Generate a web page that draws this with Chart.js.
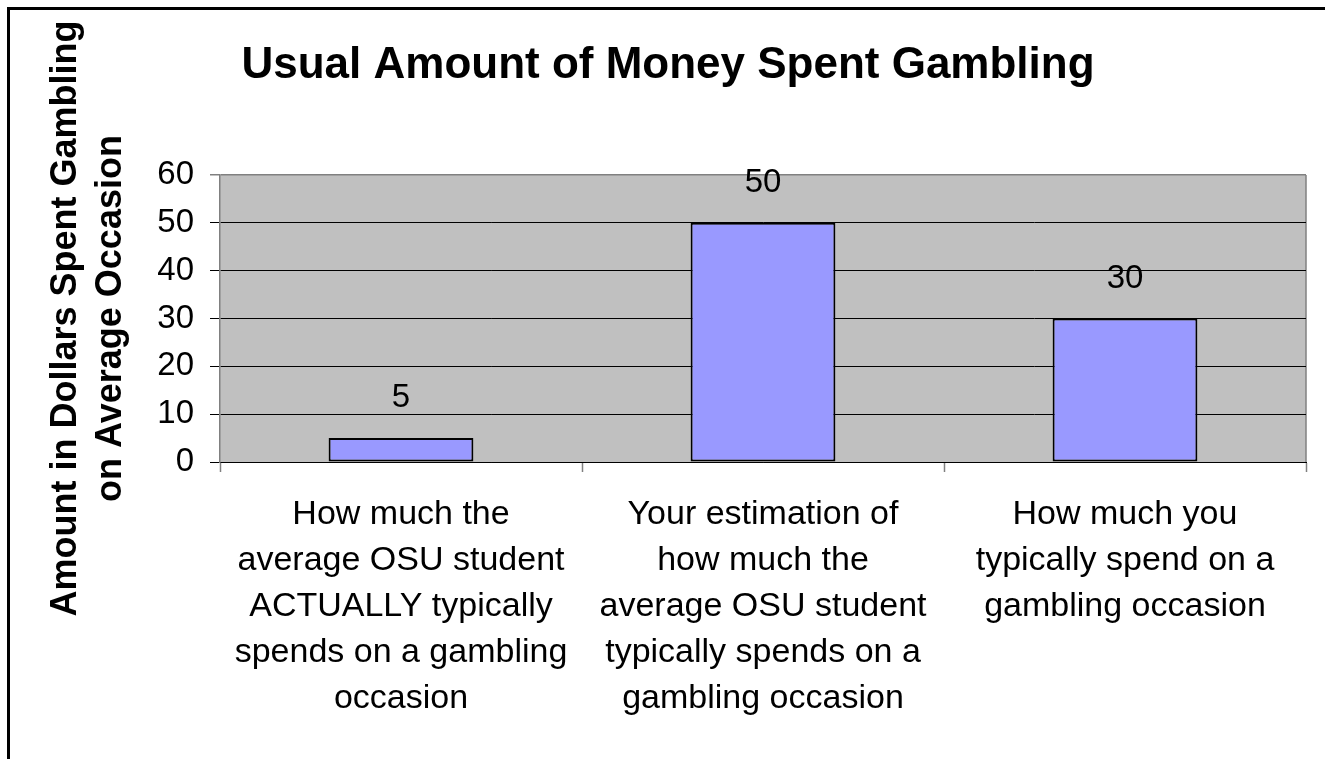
<!DOCTYPE html>
<html>
<head>
<meta charset="utf-8">
<script src="https://cdn.jsdelivr.net/npm/chart.js@4/dist/chart.umd.min.js"></script>
<style>
  html, body { margin: 0; padding: 0; background: #fff; overflow: hidden; }
  #wrap { position: relative; width: 1325px; height: 759px; }
  #frame { position: absolute; left: 7px; top: 7px; right: -10px; bottom: -10px;
           border: 3px solid #000; pointer-events: none; }
</style>
</head>
<body>
<div id="wrap">
  <canvas id="chart" width="1325" height="759"></canvas>
  <div id="frame"></div>
</div>
<script>
// chart data
const categories = [
  ["How much the", "average OSU student", "ACTUALLY typically", "spends on a gambling", "occasion"],
  ["Your estimation of", "how much the", "average OSU student", "typically spends on a", "gambling occasion"],
  ["How much you", "typically spend on a", "gambling occasion"]
]
const dollars = [5, 50, 30]
const yTicks = [0, 10, 20, 30, 40, 50, 60]

const chartTitle = "Usual Amount of Money Spent Gambling"
const yTitle = ["Amount in Dollars Spent Gambling", "on Average Occasion"]

const FONT = "'Liberation Sans', Arial, Helvetica, sans-serif"

// gray plot area + right edge
const plotBackground = {
  id: "plotBackground",
  beforeDraw(chart) {
    const {ctx, chartArea: a} = chart
    ctx.save()
    ctx.fillStyle = "#C0C0C0"
    ctx.fillRect(a.left, a.top, a.right - a.left, a.bottom - a.top)
    ctx.strokeStyle = "#808080"
    ctx.lineWidth = 1.5
    ctx.beginPath()
    ctx.moveTo(a.right, a.top)
    ctx.lineTo(a.right, a.bottom)
    ctx.stroke()
    ctx.restore()
  }
}

// value labels over the bars
const valueLabels = {
  id: "valueLabels",
  afterDatasetsDraw(chart) {
    const {ctx} = chart
    ctx.save()
    ctx.font = "33px " + FONT
    ctx.fillStyle = "#000"
    ctx.textAlign = "center"
    ctx.textBaseline = "middle"
    chart.getDatasetMeta(0).data.forEach((bar, i) => {
      ctx.fillText(String(dollars[i]), bar.x, bar.y - 40)
    })
    ctx.restore()
  }
}

new Chart(document.getElementById("chart"), {
  type: "bar",
  data: {
    labels: categories,
    datasets: [{
      data: dollars,
      backgroundColor: "#9999FF",
      borderColor: "#000",
      borderWidth: 2,
      borderSkipped: false,
      barPercentage: 0.4,
      categoryPercentage: 1
    }]
  },
  options: {
    responsive: false,
    animation: false,
    layout: { padding: { left: 30, right: 19, top: 0, bottom: 0 } },
    plugins: {
      legend: { display: false },
      tooltip: { enabled: false },
      title: {
        display: true,
        text: chartTitle,
        color: "#000",
        font: { family: FONT, size: 44, weight: "bold", lineHeight: 1.2 },
        padding: { top: 39, bottom: 83.2 }
      }
    },
    scales: {
      x: {
        grid: {
          display: true,
          offset: true,
          drawOnChartArea: false,
          tickLength: 10,
          tickColor: "#808080",
          tickWidth: 1.5
        },
        border: { display: true, color: "#000", width: 1 },
        ticks: {
          color: "#000",
          padding: 20,
          maxRotation: 0,
          autoSkip: false,
          font: { family: FONT, size: 34, lineHeight: 46 / 34 }
        },
        afterFit(scale) { scale.height = 297 }
      },
      y: {
        min: 0,
        max: 60,
        afterBuildTicks(scale) { scale.ticks = yTicks.map(v => ({value: v})) },
        grid: {
          color: c => c.tick && c.tick.value === 60 ? "#808080" : "#000",
          lineWidth: c => c.tick && c.tick.value === 60 ? 1.5 : 1,
          tickLength: 10
        },
        border: { display: true, color: "#808080", width: 1.5 },
        ticks: {
          color: "#000",
          padding: 16,
          font: { family: FONT, size: 33 }
        },
        title: {
          display: true,
          text: yTitle,
          color: "#000",
          font: { family: FONT, size: 36, weight: "bold", lineHeight: 45 / 36 },
          padding: { top: 13.5, bottom: 0 }
        },
        afterFit(scale) { scale.width = 190 }
      }
    }
  },
  plugins: [plotBackground, valueLabels]
})
</script>
</body>
</html>
